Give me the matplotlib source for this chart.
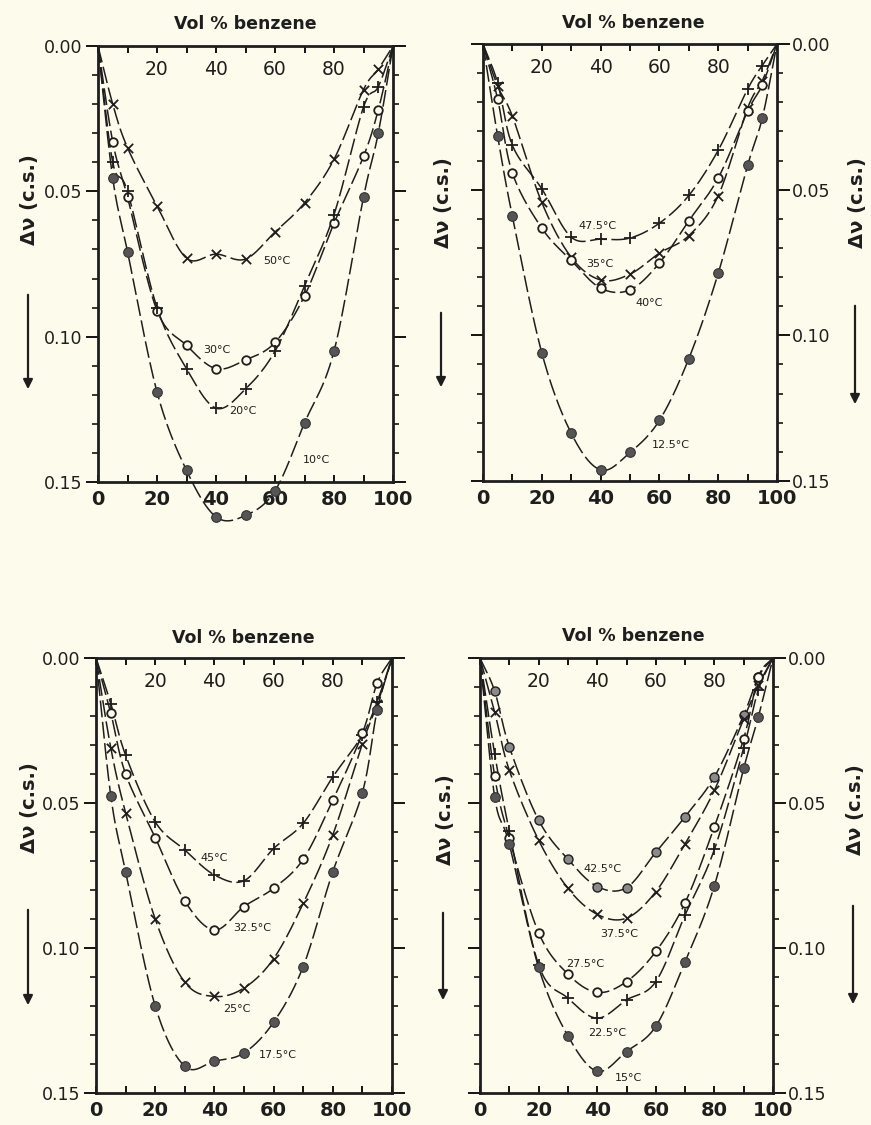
import numpy as np
import matplotlib.pyplot as plt
from matplotlib.ticker import MultipleLocator

# common composition grid (vol % benzene); curves also pass through 0 and 100
vol = [5, 10, 20, 30, 40, 50, 60, 70, 80, 90, 95]

# panel A (top left)
a_50 = [0.020, 0.035, 0.055, 0.073, 0.0716, 0.0733, 0.064, 0.054, 0.039, 0.015, 0.008]
a_30 = [0.033, 0.052, 0.091, 0.103, 0.111, 0.108, 0.102, 0.086, 0.061, 0.038, 0.022]
a_20 = [0.040, 0.050, 0.090, 0.111, 0.1246, 0.118, 0.105, 0.0825, 0.058, 0.021, 0.014]
a_10 = [0.0455, 0.0707, 0.119, 0.146, 0.162, 0.1615, 0.153, 0.1297, 0.105, 0.052, 0.030]

# panel B (top right)
b_475 = [0.0134, 0.0348, 0.0497, 0.0663, 0.067, 0.0666, 0.0615, 0.052, 0.0365, 0.0155, 0.0074]
b_x = [0.0145, 0.0248, 0.0544, 0.0732, 0.081, 0.079, 0.0718, 0.0658, 0.0521, 0.022, 0.0126]
b_o = [0.019, 0.0443, 0.0632, 0.0743, 0.0838, 0.0844, 0.0752, 0.0607, 0.046, 0.0231, 0.014]
b_125 = [0.0317, 0.0592, 0.106, 0.1336, 0.1462, 0.1402, 0.1292, 0.108, 0.0787, 0.0417, 0.0254]

# panel C (bottom left)
c_45 = [0.0157, 0.0335, 0.0565, 0.0662, 0.0748, 0.0768, 0.0657, 0.057, 0.041, 0.0266, 0.015]
c_325 = [0.019, 0.040, 0.0619, 0.0838, 0.0938, 0.0857, 0.0794, 0.0694, 0.049, 0.026, 0.0086]
c_25 = [0.031, 0.0534, 0.090, 0.1118, 0.1167, 0.1138, 0.1037, 0.0846, 0.061, 0.0295, 0.016]
c_175 = [0.0475, 0.0737, 0.120, 0.1408, 0.139, 0.1362, 0.1256, 0.1064, 0.0737, 0.0464, 0.018]

# panel D (bottom right)
d_425 = [0.0114, 0.0306, 0.0559, 0.0694, 0.0788, 0.0792, 0.067, 0.0547, 0.041, 0.0197, 0.0065]
d_375 = [0.0186, 0.0387, 0.0628, 0.0794, 0.0884, 0.0897, 0.0806, 0.064, 0.0456, 0.021, 0.0094]
d_275 = [0.0407, 0.0622, 0.0947, 0.109, 0.1153, 0.1116, 0.1012, 0.0844, 0.0582, 0.0278, 0.0065]
d_225 = [0.033, 0.0596, 0.1058, 0.1173, 0.1242, 0.1179, 0.1116, 0.0886, 0.066, 0.031, 0.011]
d_15 = [0.0479, 0.0642, 0.1067, 0.1303, 0.1425, 0.1357, 0.127, 0.1047, 0.0785, 0.0381, 0.0203]

bottom_ticks = [0, 20, 40, 60, 80, 100]
top_ticks = [20, 40, 60, 80]
y_ticks = [0.00, 0.05, 0.10, 0.15]

BG = '#fdfcec'
INK = '#1e1e1e'

W, H = 871, 1125


def fx(x):
    return x / W


def fy(y):
    return 1 - y / H


def smooth(xs, ys, n=24):
    # catmull-rom curve through the points, just for drawing the line
    P = np.column_stack([xs, ys]).astype(float)
    P = np.vstack([2 * P[0] - P[1], P, 2 * P[-1] - P[-2]])
    t = np.linspace(0, 1, n, endpoint=False)[:, None]
    out = []
    for i in range(1, len(P) - 2):
        p0, p1, p2, p3 = P[i - 1], P[i], P[i + 1], P[i + 2]
        seg = 0.5 * (2 * p1 + (-p0 + p2) * t + (2 * p0 - 5 * p1 + 4 * p2 - p3) * t ** 2
                     + (-p0 + 3 * p1 - 3 * p2 + p3) * t ** 3)
        out.append(seg)
    out.append(P[-2][None])
    return np.vstack(out)


def series(ax, ys, kind):
    xs = [0] + vol + [100]
    yy = [0.0] + ys + [0.0]
    c = smooth(xs, yy)
    ax.plot(c[:, 0], c[:, 1], color=INK, lw=1.1, dashes=(11, 3), clip_on=False, zorder=2)
    if kind == 'x':
        ax.scatter(vol, ys, marker='x', s=45, color=INK, lw=1.3, clip_on=False, zorder=3)
    elif kind == '+':
        ax.scatter(vol, ys, marker='+', s=75, color=INK, lw=1.3, clip_on=False, zorder=3)
    elif kind == 'o':
        ax.scatter(vol, ys, marker='o', s=38, facecolor=BG, edgecolor=INK, lw=1.3, clip_on=False, zorder=3)
    elif kind == 'dot':
        ax.scatter(vol, ys, marker='o', s=42, facecolor='#8a8a8a', edgecolor=INK, lw=1.0, clip_on=False, zorder=3)
    else:
        ax.scatter(vol, ys, marker='o', s=48, facecolor='#555555', edgecolor='#333333', lw=0.8, clip_on=False, zorder=3)


def frame(ax, side):
    ax.set_facecolor('none')
    ax.set_xlim(0, 100)
    ax.set_ylim(0.15, 0.0)
    for sp in ax.spines.values():
        sp.set_linewidth(2.0)
        sp.set_color(INK)
    ax.set_xticks(bottom_ticks)
    ax.set_xticklabels([str(v) for v in bottom_ticks], fontsize=14, fontweight='bold', color=INK)
    ax.xaxis.set_minor_locator(MultipleLocator(10))
    ax.tick_params(axis='x', which='both', direction='in', top=True, bottom=True, length=5, width=1.3, pad=6)
    ax.set_yticks(y_ticks)
    ax.yaxis.set_minor_locator(MultipleLocator(0.01))
    ax.tick_params(axis='y', which='major', direction='out', left=True, right=True, length=9, width=1.3, pad=2)
    ax.tick_params(axis='y', which='minor', direction='out', left=True, right=True, length=4, width=1.1)
    if side == 'left':
        ax.tick_params(axis='y', labelleft=True, labelright=False)
    else:
        ax.tick_params(axis='y', labelleft=False, labelright=True)
    ax.set_yticklabels(['%.2f' % v for v in y_ticks], fontsize=12.5, color=INK)
    top = ax.secondary_xaxis('top')
    top.set_xticks(top_ticks)
    top.set_xticklabels([str(v) for v in top_ticks], fontsize=13.5, color=INK)
    top.tick_params(direction='in', length=0, pad=-24)
    top.spines['top'].set_visible(False)


def ylabel(xc, yc, ya, yb):
    fig.text(fx(xc), fy(yc), 'Δν (c.s.)', rotation=90, ha='center', va='center',
             fontsize=14, fontweight='bold', color=INK)
    fig.add_artist(plt.matplotlib.patches.FancyArrowPatch(
        (fx(xc - 2), fy(ya)), (fx(xc - 2), fy(yb)), transform=fig.transFigure,
        arrowstyle='-|>', mutation_scale=14, lw=1.6, color=INK))


def temp(ax, x, y, s):
    ax.text(x, y, s, fontsize=8, ha='left', va='center', color=INK)


fig = plt.figure(figsize=(W / 100, H / 100), dpi=100, facecolor=BG)

axA = fig.add_axes([fx(98), fy(482), fx(295), 436 / H])
axB = fig.add_axes([fx(483), fy(481), fx(294), 437 / H])
axC = fig.add_axes([fx(96), fy(1093), fx(296), 435 / H])
axD = fig.add_axes([fx(480), fy(1093), fx(293), 435 / H])

frame(axA, 'left')
frame(axB, 'right')
frame(axC, 'left')
frame(axD, 'right')

series(axA, a_50, 'x')
series(axA, a_30, 'o')
series(axA, a_20, '+')
series(axA, a_10, 'filled')
temp(axA, 56, 0.074, '50°C')
temp(axA, 35.6, 0.1045, '30°C')
temp(axA, 44.6, 0.1257, '20°C')
temp(axA, 69.5, 0.1423, '10°C')

series(axB, b_475, '+')
series(axB, b_x, 'x')
series(axB, b_o, 'o')
series(axB, b_125, 'filled')
temp(axB, 32.6, 0.0626, '47.5°C')
temp(axB, 35.2, 0.0756, '35°C')
temp(axB, 51.7, 0.089, '40°C')
temp(axB, 57.4, 0.1376, '12.5°C')

series(axC, c_45, '+')
series(axC, c_325, 'o')
series(axC, c_25, 'x')
series(axC, c_175, 'filled')
temp(axC, 35.2, 0.0689, '45°C')
temp(axC, 46.4, 0.0932, '32.5°C')
temp(axC, 43.1, 0.121, '25°C')
temp(axC, 54.9, 0.1368, '17.5°C')

series(axD, d_425, 'dot')
series(axD, d_375, 'x')
series(axD, d_275, 'o')
series(axD, d_225, '+')
series(axD, d_15, 'filled')
temp(axD, 35.2, 0.0729, '42.5°C')
temp(axD, 40.9, 0.0953, '37.5°C')
temp(axD, 29.5, 0.1056, '27.5°C')
temp(axD, 36.9, 0.1293, '22.5°C')
temp(axD, 46.0, 0.1448, '15°C')

for xc, yc in [(245, 24), (633, 23), (243, 638), (633, 636)]:
    fig.text(fx(xc), fy(yc), 'Vol % benzene', ha='center', va='center',
             fontsize=12.5, fontweight='bold', color=INK)

ylabel(30, 200, 292, 392)
ylabel(443, 203, 310, 390)
ylabel(857, 203, 303, 407)
ylabel(30, 808, 907, 1008)
ylabel(445, 820, 910, 1003)
ylabel(855, 810, 903, 1007)

fig.savefig('out.png', dpi=100, facecolor=BG)
